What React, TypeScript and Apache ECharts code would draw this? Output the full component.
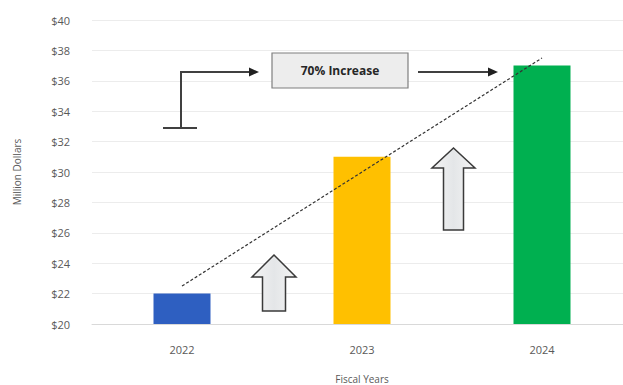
import React, { useEffect, useRef } from "react";
import * as echarts from "echarts";

const categories = ["2022", "2023", "2024"];
const values = [22, 31, 37];
const trendValues = [22.5, 30, 37.5];
const barColors = ["#2e5fc1", "#ffc000", "#00b050"];
const yTicks = { min: 20, max: 40, interval: 2 };
const annotationText = "70% Increase";

export default function App() {
  const ref = useRef<HTMLDivElement>(null);
  useEffect(() => {
    if (!ref.current) return;
    const chart = echarts.init(ref.current, null, { renderer: "svg" });
    const font = "'Open Sans', 'Noto Sans', sans-serif";
    const arrowFill = {
      type: "linear", x: 0, y: 0, x2: 1, y2: 0,
      colorStops: [
        { offset: 0, color: "#f4f4f4" },
        { offset: 0.5, color: "#e4e6e8" },
        { offset: 1, color: "#f4f4f4" },
      ],
    };
    const blockArrow = (cx: number, tip: number, headBase: number, bottom: number, headHalf: number, shaftHalf: number) => ({
      type: "polygon",
      shape: {
        points: [
          [cx, tip],
          [cx + headHalf, headBase],
          [cx + shaftHalf, headBase],
          [cx + shaftHalf, bottom],
          [cx - shaftHalf, bottom],
          [cx - shaftHalf, headBase],
          [cx - headHalf, headBase],
        ],
      },
      style: { fill: arrowFill, stroke: "#3a3a3a", lineWidth: 1.5 },
      z: 10,
    });
    chart.setOption({
      animation: false,
      backgroundColor: "#ffffff",
      grid: { left: 92, width: 540, top: 20, height: 304, containLabel: false, outerBoundsMode: "none" },
      xAxis: {
        type: "category",
        data: categories,
        axisLine: { show: true, lineStyle: { color: "#d9d9d9" } },
        axisTick: { show: false },
        axisLabel: { color: "#595959", fontSize: 11, fontFamily: font, margin: 20 },
        name: "Fiscal Years",
        nameLocation: "middle",
        nameGap: 50,
        nameTextStyle: { color: "#595959", fontSize: 10, fontFamily: font },
      },
      yAxis: {
        type: "value",
        min: yTicks.min,
        max: yTicks.max,
        interval: yTicks.interval,
        axisLine: { show: false },
        axisTick: { show: false },
        splitLine: { lineStyle: { color: "#ececec" } },
        axisLabel: { color: "#595959", fontSize: 11, fontFamily: font, margin: 22, formatter: (v: number) => "$" + v },
        name: "Million Dollars",
        nameLocation: "middle",
        nameGap: 70,
        nameTextStyle: { color: "#595959", fontSize: 10, fontFamily: font },
      },
      series: [
        {
          type: "bar",
          data: values.map((v, i) => ({ value: v, itemStyle: { color: barColors[i] } })),
          barWidth: 57,
          z: 2,
        },
        {
          type: "line",
          data: trendValues,
          symbol: "none",
          lineStyle: { color: "#333333", width: 1.2, type: [3, 2] },
          z: 5,
        },
      ],
      graphic: [
        // bracket
        { type: "line", shape: { x1: 163, y1: 128, x2: 197, y2: 128 }, style: { stroke: "#404040", lineWidth: 2 }, z: 10 },
        { type: "line", shape: { x1: 181, y1: 128, x2: 181, y2: 72 }, style: { stroke: "#404040", lineWidth: 2 }, z: 10 },
        { type: "line", shape: { x1: 180, y1: 72, x2: 250, y2: 72 }, style: { stroke: "#404040", lineWidth: 2 }, z: 10 },
        { type: "polygon", shape: { points: [[259, 72], [249, 67.5], [249, 76.5]] }, style: { fill: "#202020" }, z: 10 },
        // label box
        { type: "rect", shape: { x: 272, y: 53, width: 136, height: 35 }, style: { fill: "#ededed", stroke: "#7f7f7f", lineWidth: 1.2 }, z: 10 },
        { type: "text", x: 340, y: 70.5, style: { text: annotationText, fontSize: 12, fontWeight: "bold", fill: "#262626", fontFamily: font, align: "center", verticalAlign: "middle" }, z: 11 },
        // right arrow
        { type: "line", shape: { x1: 418, y1: 72, x2: 489, y2: 72 }, style: { stroke: "#404040", lineWidth: 2 }, z: 10 },
        { type: "polygon", shape: { points: [[498, 72], [488, 67.5], [488, 76.5]] }, style: { fill: "#202020" }, z: 10 },
        // block arrows
        blockArrow(274, 255, 277, 311, 22, 11.5),
        blockArrow(453.5, 148, 168, 230, 21.5, 10),
      ],
    });
    return () => chart.dispose();
  }, []);
  return <div ref={ref} style={{ position: "absolute", left: 0, top: 0, width: 623, height: 385 }} />;
}
